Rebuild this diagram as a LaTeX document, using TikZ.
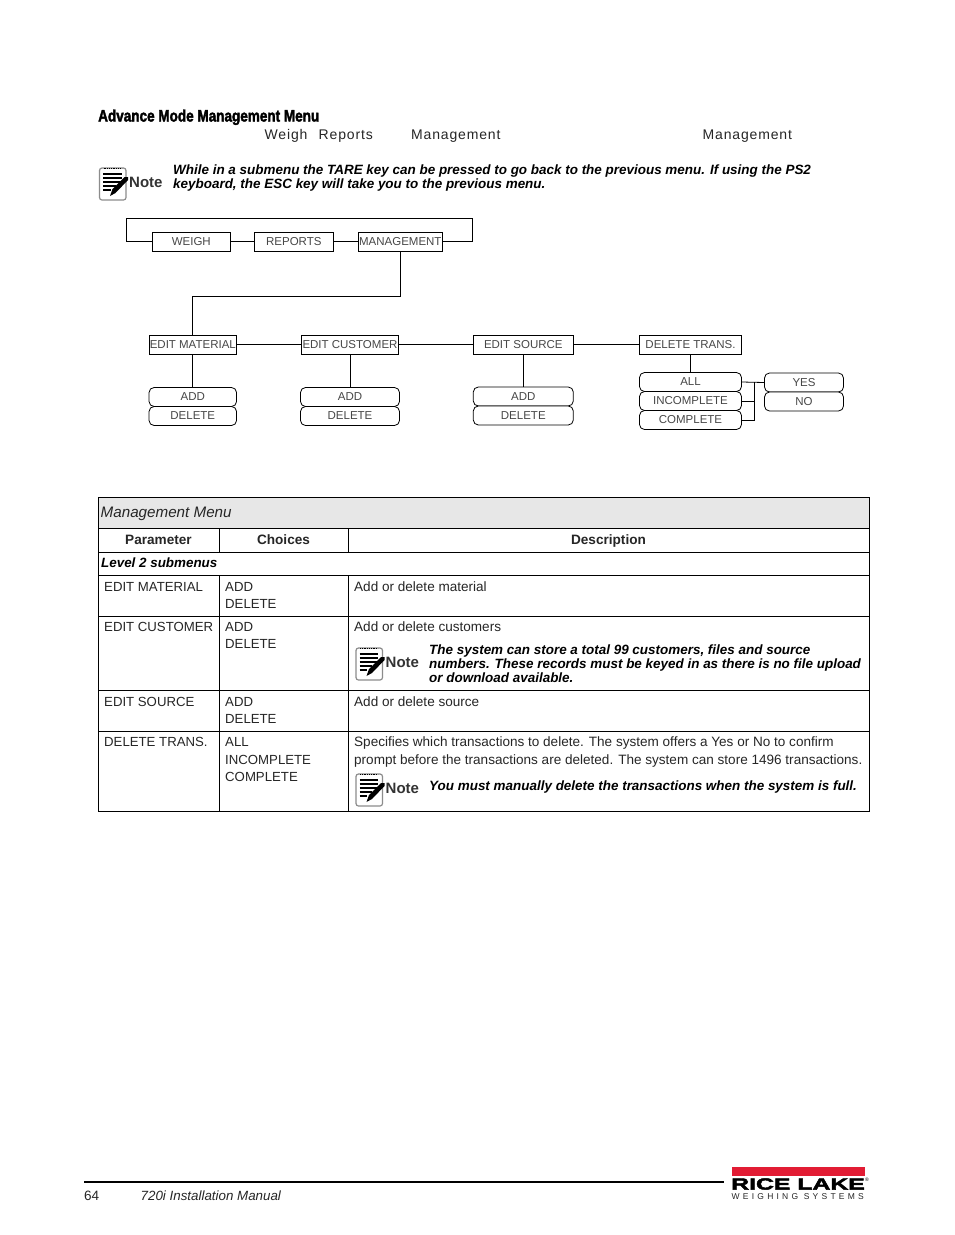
\documentclass[tikz,border=0pt]{standalone}
\usepackage{fontspec}
\setmainfont{Liberation Sans}
\newfontfamily\headfont[FakeStretch=0.82,FakeBold=2.2]{Liberation Sans Bold}
\newfontfamily\logofont[FakeStretch=1.55,FakeBold=3]{Liberation Sans Bold}
\newfontfamily\spacedfont[LetterSpace=6]{Liberation Sans}
\newfontfamily\tagfont[LetterSpace=38]{Liberation Sans}
\usetikzlibrary{calc}
\definecolor{ricered}{RGB}{226,28,52}
\definecolor{headgray}{RGB}{231,231,231}
\tikzset{
  menubox/.style={draw=black, fill=white, line width=0.8pt, inner sep=0pt, minimum height=19pt, text=black!72, font=\fontsize{11.5}{11.5}\selectfont},
  choicebox/.style={menubox, rounded corners=5pt},
  link/.style={draw=black, line width=0.8pt},
  grid/.style={draw=black, line width=0.7pt},
  celltext/.style={anchor=base west, inner sep=0pt, text=black!85, font=\fontsize{13.55}{13.55}\selectfont},
  capstext/.style={celltext, font=\fontsize{13.2}{13.2}\selectfont},
  notetext/.style={anchor=base west, inner sep=0pt, text=black, font=\fontsize{13.45}{13.45}\selectfont\bfseries\itshape},
  notetag/.style={anchor=base west, inner sep=0pt, text=black!80, font=\fontsize{15}{15}\selectfont\bfseries},
  spaced/.style={anchor=base west, inner sep=0pt, text=black!85, font=\fontsize{14}{14}\selectfont\spacedfont}
}
\newcommand{\noteicon}[3]{
  \begin{scope}[shift={(#1,#2)}]
    \draw[black!45, fill=white, line width=1.2pt, rounded corners=2.5pt] (0,1) rectangle (26.5,33);
    \draw[black, line width=1.4pt, dash pattern=on 1pt off 0.8pt] (4,1.5) -- (22,1.5);
    \foreach \yy/\xx in {7/22, 11/22, 15/22, 19/16, 23/11}
      \draw[black, line width=1.5pt] (3.5,\yy) -- (\xx,\yy);
    \fill[black] (10.5,29) -- (13,22) -- (25,10) -- (28.5,10) -- (28.5,13) -- (16,26) -- cycle;
    \node[notetag] (#3) at (29.5,20) {Note};
  \end{scope}
}
\begin{document}
\begin{tikzpicture}[x=1pt, y=-1pt]
  \useasboundingbox (0,0) rectangle (954,1235);
  \fill[white] (0,0) rectangle (954,1235);

  \node[anchor=base west, inner sep=0pt, font=\fontsize{16.5}{16.5}\selectfont\headfont] (title) at (98,121.5) {Advance Mode Management Menu};
  \foreach \N/\x/\T in {tabweigh/264.5/Weigh, tabreports/318.5/Reports, tabmgmt/411/Management, tabmgmtb/702.5/Management}
    \node[spaced] (\N) at (\x,139) {\T};

  \noteicon{99.5}{167}{notetop}
  \foreach \N/\x/\y/\T in {toplinea/173/174/While in a submenu the TARE key can be pressed to go back to the previous menu. If using the PS2,
      toplineb/173/188/{keyboard, the ESC key will take you to the previous menu.},
      custlinea/429/654/{The system can store a total 99 customers, files and source},
      custlineb/429/668/numbers. These records must be keyed in as there is no file upload,
      custlinec/429/682/or download available.,
      translinea/429/790/You must manually delete the transactions when the system is full.}
    \node[notetext] (\N) at (\x,\y) {\T};

  \foreach \N/\x/\y/\w/\T in {weigh/191.3/241.8/78/WEIGH, reports/293.8/241.8/79/REPORTS, management/400.3/241.8/84/MANAGEMENT,
      editmaterial/192.8/344.8/87/EDIT MATERIAL, editcustomer/350/344.8/97/EDIT CUSTOMER, editsource/523.3/344.8/100/EDIT SOURCE, deletetrans/690.5/344.8/102/DELETE TRANS.}
    \node[menubox, minimum width=\w pt] (\N) at (\x,\y) {\T};
  \foreach \N/\x/\y/\w/\T in {addmaterial/192.8/397/87.5/ADD, delmaterial/192.8/416/87.5/DELETE, addcustomer/350/397/99/ADD, delcustomer/350/416/99/DELETE,
      addsource/523.3/396.5/100/ADD, delsource/523.3/415.5/100/DELETE, all/690.5/382/102/ALL, incomplete/690.5/401/102/INCOMPLETE, complete/690.5/420/102/COMPLETE,
      yes/804/382.5/79/YES, no/804/401.5/79/NO}
    \node[choicebox, minimum width=\w pt] (\N) at (\x,\y) {\T};

  \coordinate (loopL) at (126.3,218.3);
  \coordinate (loopR) at (472.3,241.8);
  \coordinate (drop) at (192.8,296.7);
  \coordinate (jct) at (754,382);
  \draw[link] (weigh) -- (reports);
  \draw[link] (reports) -- (management);
  \draw[link] (weigh.west) -| (loopL) -| (loopR) -- (management.east);
  \draw[link] (management.south) |- (drop) -- (editmaterial.north);
  \draw[link] (editmaterial) -- (editcustomer);
  \draw[link] (editcustomer) -- (editsource);
  \draw[link] (editsource) -- (deletetrans);
  \draw[link] (editmaterial.south) -- (addmaterial.north);
  \draw[link] (editcustomer.south) -- (addcustomer.north);
  \draw[link] (editsource.south) -- (addsource.north);
  \draw[link] (deletetrans.south) -- (all.north);
  \draw[link] (all.east) -- (yes.west);
  \draw[link] (incomplete.east) -| (jct);
  \draw[link] (complete.east) -| (jct);

  \fill[headgray] (98.5,497.5) rectangle (869.5,528.5);
  \draw[grid] (98.5,497.5) rectangle (869.5,811.5);
  \foreach \y in {528.5,552.5,575.5,616.5,690.5,731.5}
    \draw[grid] (98.5,\y) -- (869.5,\y);
  \foreach \x in {219.5,348.5} {
    \draw[grid] (\x,528.5) -- (\x,552.5);
    \draw[grid] (\x,575.5) -- (\x,811.5);
  }
  \node[anchor=base west, inner sep=0pt, text=black!85, font=\fontsize{15.2}{15.2}\selectfont\itshape] (menuhead) at (100.5,517) {Management Menu};
  \foreach \N/\x/\T in {parameter/158.5/Parameter, choices/283.5/Choices, description/608.5/Description}
    \node[anchor=base, inner sep=0pt, font=\fontsize{13.6}{13.6}\selectfont\bfseries, text=black!85] (\N) at (\x,544.5) {\T};
  \node[anchor=base west, inner sep=0pt, font=\fontsize{13.4}{13.4}\selectfont\bfseries\itshape] (level) at (101,567) {Level 2 submenus};

  \foreach \N/\x/\y/\T in {pmaterial/104/591/EDIT MATERIAL, pcustomer/104/631/EDIT CUSTOMER, psource/104/706/EDIT SOURCE, ptrans/104/746/DELETE TRANS.,
      cmateriala/225/591/ADD, cmaterialb/225/608/DELETE, ccustomera/225/631/ADD, ccustomerb/225/648/DELETE,
      csourcea/225/706/ADD, csourceb/225/723/DELETE, ctransa/225/746/ALL, ctransb/225/764/INCOMPLETE, ctransc/225/781/COMPLETE}
    \node[capstext] (\N) at (\x,\y) {\T};
  \foreach \N/\x/\y/\T in {dmaterial/354/591/Add or delete material, dcustomer/354/631/Add or delete customers, dsource/354/706/Add or delete source,
      dtransa/354/746/Specifies which transactions to delete. The system offers a Yes or No to confirm,
      dtransb/354/764/prompt before the transactions are deleted. The system can store 1496 transactions.}
    \node[celltext] (\N) at (\x,\y) {\T};

  \noteicon{356}{647}{notecust}
  \noteicon{356}{773}{notetrans}

  \draw[black, line width=2.2pt] (84,1182) -- (723.5,1182);
  \node[celltext] (pagenum) at (84,1200) {64};
  \node[celltext, font=\fontsize{13.35}{13.35}\selectfont\itshape] (manual) at (140.5,1200) {720i Installation Manual};
  \fill[ricered] (731.5,1167) rectangle (864.5,1175.5);
  \node[anchor=base west, inner sep=0pt, font=\fontsize{16}{16}\selectfont\logofont] (rice) at (731,1189.5) {RICE LAKE};
  \node[anchor=base west, inner sep=0pt, font=\fontsize{5}{5}\selectfont] (regmark) at (865,1181) {®};
  \node[anchor=base west, inner sep=0pt, text=black!85, font=\fontsize{8.5}{8.5}\selectfont\tagfont] (weighing) at (731.5,1199) {WEIGHING SYSTEMS};
\end{tikzpicture}
\end{document}
